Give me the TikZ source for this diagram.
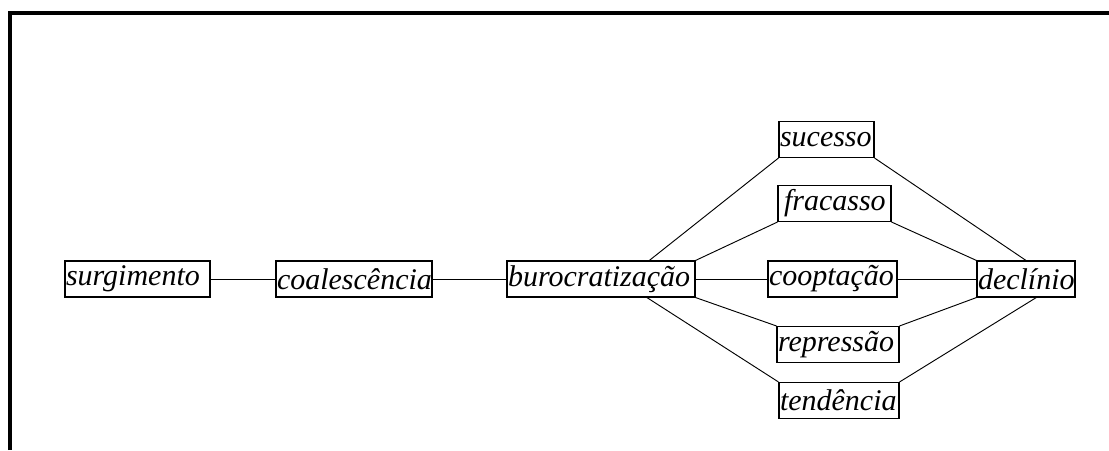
\documentclass[tikz,border=0pt]{standalone}
\usepackage{fontspec}
\setmainfont{Liberation Serif}
\usepackage{tikz}

\begin{document}
\begin{tikzpicture}[x=0.75pt,y=-0.75pt,
    stagebox/.style={draw,line width=0.8,inner xsep=0.75pt,inner ysep=0pt,
      minimum height=27pt,align=left,
      font=\fontsize{22.5}{27}\selectfont\itshape},
    link/.style={-,line width=0.7}]
    \useasboundingbox (0,0) rectangle (1109,450);
    \draw[-,line width=3] (10,450) -- (10,13) -- (1109,13);
    \node[stagebox,text width=107.25pt] (surg) at (137.5,279) {surgimento};
    \node[stagebox,text width=115.5pt] (coal) at (354,279) {coalescência};
    \node[stagebox,text width=139.5pt] (buro) at (601,279) {burocratização};
    \node[stagebox,text width=69.75pt] (suc) at (826.5,139.5) {sucesso};
    \node[stagebox,text width=83.25pt] (frac) at (834.5,203.5) {\,fracasso};
    \node[stagebox,text width=95.25pt] (coop) at (832.5,279) {cooptação};
    \node[stagebox,text width=72pt] (decl) at (1026,279) {declínio};
    \node[stagebox,text width=90pt] (repr) at (838,344.5) {repressão};
    \node[stagebox,text width=88.5pt] (tend) at (839,400.5) {tendência};
    \draw[link] (surg) -- (coal);
    \draw[link] (coal) -- (buro);
    \draw[link] (buro.21) -- (suc.south west);
    \draw[link] (buro.north east) -- (frac.south west);
    \draw[link] (buro) -- (coop);
    \draw[link] (buro.south east) -- (repr.north west);
    \draw[link] (buro.-22) -- (tend.north west);
    \draw[link] (suc.south east) -- (decl.north);
    \draw[link] (frac.south east) -- (decl.north west);
    \draw[link] (coop) -- (decl);
    \draw[link] (repr.north east) -- (decl.south west);
    \draw[link] (tend.north east) -- (decl.-61);
\end{tikzpicture}
\end{document}
